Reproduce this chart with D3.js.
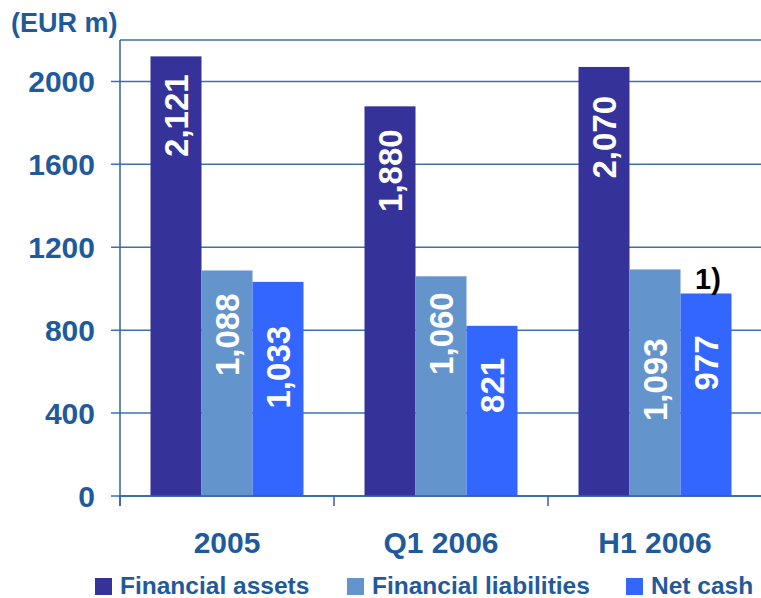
<!DOCTYPE html>
<html>
<head>
<meta charset="utf-8">
<script src="https://cdn.jsdelivr.net/npm/d3@7"></script>
<style>
	body { margin: 0; background: #fff; }
	text { font-family: "Liberation Sans", Arial, sans-serif; font-weight: bold; }
	.grid line { stroke: #3f6fb0; stroke-width: 1.5; }
	.axis line { stroke: #2f62a8; stroke-width: 1.5; }
	.tick-label, .cat-label, .legend-label, .unit { fill: #1f5a9c; }
	.bar-label { fill: #fff; }
</style>
</head>
<body>
<svg id="chart"></svg>
<script>

var categories = ["2005", "Q1 2006", "H1 2006"];
var seriesNames = ["Financial assets", "Financial liabilities", "Net cash"];
var financialAssets = [2121, 1880, 2070];
var financialLiabilities = [1088, 1060, 1093];
var netCash = [1033, 821, 977];
var yTicks = [0, 400, 800, 1200, 1600, 2000];
var colors = ["#353399", "#6395cc", "#3366ff"];

// distance from bar top to end of the rotated value label, per series / category
var labelOffsets = [[18, 23, 29], [23, 16, 69], [44, 32, 42]];

var width = 761, height = 598;
var plot = {left: 120, right: 762, top: 40, bottom: 496};

var svg = d3.select("#chart")
	.attr("width", width)
	.attr("height", height);

var x = d3.scaleBand()
	.domain(categories)
	.range([plot.left, plot.right]);

var xSub = d3.scaleBand()
	.domain(seriesNames)
	.range([0, x.bandwidth()])
	.paddingInner(0)
	.paddingOuter(0.598);

var y = d3.scaleLinear()
	.domain([0, 2200])
	.range([plot.bottom, plot.top]);

var values = [financialAssets, financialLiabilities, netCash];

// grid lines with short ticks on the left
var grid = svg.append("g").attr("class", "grid");
grid.selectAll("line")
	.data(yTicks).enter().append("line")
		.attr("x1", plot.left - 9)
		.attr("x2", plot.right)
		.attr("y1", function (d) { return y(d); })
		.attr("y2", function (d) { return y(d); });

// top frame line
svg.append("line")
	.attr("x1", plot.left).attr("x2", plot.right)
	.attr("y1", y(2200)).attr("y2", y(2200))
	.style("stroke", "#3f6fb0").style("stroke-width", 1.5);

svg.selectAll(".tick-label")
	.data(yTicks).enter().append("text")
		.attr("class", "tick-label")
		.attr("x", 95)
		.attr("y", function (d) { return y(d); })
		.attr("dy", "0.36em")
		.attr("text-anchor", "end")
		.style("font-size", "30px")
		.text(function (d) { return d; });

// bars
for (var s = 0; s < seriesNames.length; s++) {
	svg.selectAll(".bar" + s)
		.data(values[s]).enter().append("rect")
			.attr("class", "bar bar" + s)
			.attr("x", function (d, i) { return x(categories[i]) + xSub(seriesNames[s]); })
			.attr("width", xSub.bandwidth())
			.attr("y", function (d) { return y(d); })
			.attr("height", function (d) { return y(0) - y(d); })
			.attr("fill", colors[s]);
}

// value labels inside bars
for (var s = 0; s < seriesNames.length; s++) {
	svg.selectAll(".bar-label" + s)
		.data(values[s]).enter().append("text")
			.attr("class", "bar-label bar-label" + s)
			.attr("transform", function (d, i) {
				var cx = x(categories[i]) + xSub(seriesNames[s]) + xSub.bandwidth() / 2;
				var ty = y(d) + labelOffsets[s][i];
				return "translate(" + cx + "," + ty + ") rotate(-90)";
			})
			.attr("dy", "0.36em")
			.attr("text-anchor", "end")
			.style("font-size", "33px")
			.text(function (d) { return d3.format(",")(d); });
}

// footnote marker above H1 net cash
svg.append("text")
	.attr("x", x(categories[2]) + xSub(seriesNames[2]) + xSub.bandwidth() / 2 + 2)
	.attr("y", y(netCash[2]) - 4)
	.attr("text-anchor", "middle")
	.style("font-size", "29px")
	.style("fill", "#000")
	.text("1)");

// axes
var axis = svg.append("g").attr("class", "axis");
axis.append("line")
	.attr("x1", plot.left).attr("x2", plot.left)
	.attr("y1", plot.top).attr("y2", plot.bottom + 10);
axis.append("line")
	.attr("x1", plot.left).attr("x2", plot.right)
	.attr("y1", plot.bottom).attr("y2", plot.bottom);
axis.selectAll(".xtick")
	.data(categories).enter().append("line")
		.attr("x1", function (d) { return x(d); })
		.attr("x2", function (d) { return x(d); })
		.attr("y1", plot.bottom)
		.attr("y2", plot.bottom + 10);

svg.selectAll(".cat-label")
	.data(categories).enter().append("text")
		.attr("class", "cat-label")
		.attr("x", function (d) { return x(d) + x.bandwidth() / 2; })
		.attr("y", 553)
		.attr("text-anchor", "middle")
		.style("font-size", "30px")
		.text(function (d) { return d; });

svg.append("text")
	.attr("class", "unit")
	.attr("x", 11)
	.attr("y", 32)
	.style("font-size", "27px")
	.text("(EUR m)");

// legend
var legendX = [95, 347, 626];
var legend = svg.selectAll(".legend")
	.data(seriesNames).enter().append("g")
		.attr("class", "legend")
		.attr("transform", function (d, i) { return "translate(" + legendX[i] + ",578)"; });
legend.append("rect")
	.attr("width", 17).attr("height", 17)
	.attr("fill", function (d, i) { return colors[i]; });
legend.append("text")
	.attr("class", "legend-label")
	.attr("x", 25)
	.attr("y", 16)
	.style("font-size", "24.5px")
	.text(function (d) { return d; });

</script>
</body>
</html>
